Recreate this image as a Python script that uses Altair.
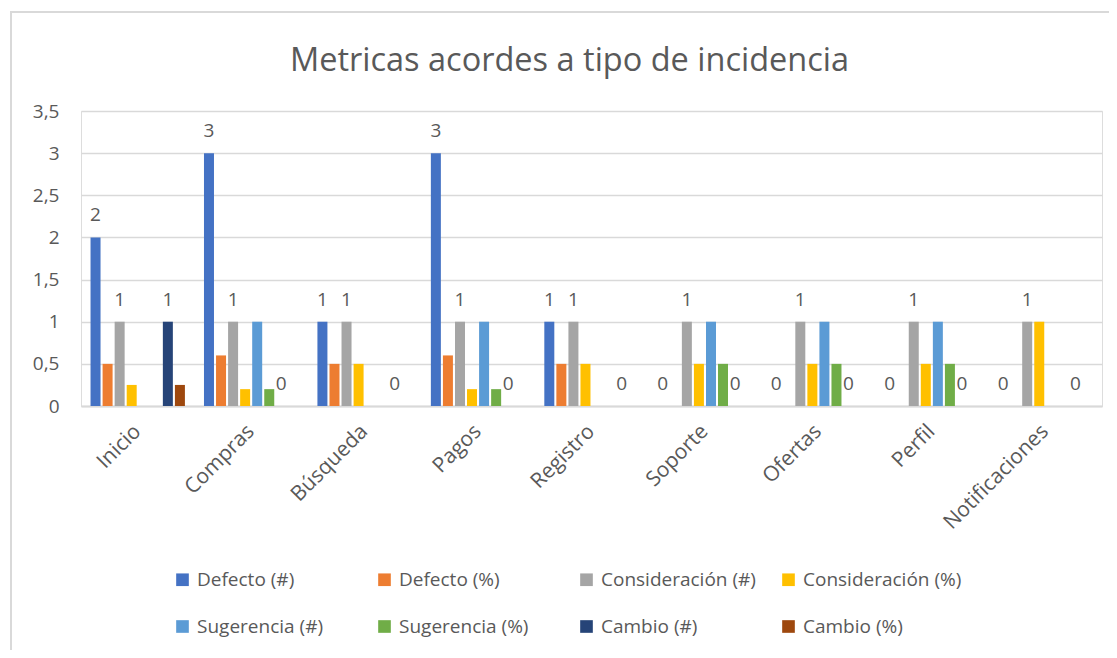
import altair as alt
import pandas as pd

categories = ["Inicio", "Compras", "Búsqueda", "Pagos", "Registro",
              "Soporte", "Ofertas", "Perfil", "Notificaciones"]
series = ["Defecto (#)", "Defecto (%)", "Consideración (#)", "Consideración (%)",
          "Sugerencia (#)", "Sugerencia (%)", "Cambio (#)", "Cambio (%)"]
colors = ["#4472C4", "#ED7D31", "#A5A5A5", "#FFC000",
          "#5B9BD5", "#70AD47", "#264478", "#9E480E"]

defecto_n = [2, 3, 1, 3, 1, 0, 0, 0, 0]
defecto_p = [0.5, 0.6, 0.5, 0.6, 0.5, 0, 0, 0, 0]
consid_n = [1, 1, 1, 1, 1, 1, 1, 1, 1]
consid_p = [0.25, 0.2, 0.5, 0.2, 0.5, 0.5, 0.5, 0.5, 1]
suger_n = [0, 1, 0, 1, 0, 1, 1, 1, 0]
suger_p = [0, 0.2, 0, 0.2, 0, 0.5, 0.5, 0.5, 0]
cambio_n = [1, 0, 0, 0, 0, 0, 0, 0, 0]
cambio_p = [0.25, 0, 0, 0, 0, 0, 0, 0, 0]

labelled = ["Defecto (#)", "Consideración (#)", "Cambio (#)"]
y_ticks = [0, 0.5, 1, 1.5, 2, 2.5, 3, 3.5]

values = [defecto_n, defecto_p, consid_n, consid_p, suger_n, suger_p, cambio_n, cambio_p]
rows = []
for s, vals in zip(series, values):
    for c, v in zip(categories, vals):
        rows.append({"categoria": c, "serie": s, "valor": v})
df = pd.DataFrame(rows)

FONT = "Open Sans"
GREY = "#595959"

x_enc = alt.X("categoria:N", sort=categories, title=None,
              scale=alt.Scale(paddingInner=0.15, paddingOuter=0.075),
              axis=alt.Axis(labelAngle=315, labelAlign="right", labelBaseline="middle",
                            labelPadding=22, labelFontSize=21, labelColor=GREY,
                            labelFont=FONT, ticks=False, domainColor="#D9D9D9",
                            domainWidth=2, grid=False))
xo_enc = alt.XOffset("serie:N", sort=series,
                     scale=alt.Scale(domain=series, paddingInner=0.17, paddingOuter=0.085))
y_enc = alt.Y("valor:Q", title=None,
              scale=alt.Scale(domain=[0, 3.5], nice=False),
              axis=alt.Axis(values=y_ticks, labelExpr="replace(format(datum.value, '.1~f'), '.', ',')",
                            labelFontSize=19, labelColor=GREY, labelFont=FONT, labelPadding=22,
                            ticks=False, domain=False, gridColor="#D9D9D9", gridWidth=1.5))

bars = alt.Chart(df).mark_bar().encode(
    x=x_enc,
    xOffset=xo_enc,
    y=y_enc,
    color=alt.Color("serie:N", sort=series,
                    scale=alt.Scale(domain=series, range=colors),
                    legend=alt.Legend(title=None, orient="none", legendX=92, legendY=459,
                                      direction="horizontal",
                                      columns=4, gridAlign="all", symbolType="square",
                                      symbolSize=160, symbolStrokeWidth=0, labelFontSize=19,
                                      labelColor=GREY, labelFont=FONT, labelOffset=5,
                                      columnPadding=19, rowPadding=27, labelLimit=300)),
)

labels = alt.Chart(df).transform_filter(
    alt.FieldOneOfPredicate(field="serie", oneOf=labelled)
).mark_text(fontSize=19, font=FONT, color=GREY, baseline="alphabetic", dy=-16).encode(
    x=alt.X("categoria:N", sort=categories),
    xOffset=alt.XOffset("serie:N", sort=series),
    y=alt.Y("valor:Q"),
    text=alt.Text("valor:Q", format="d"),
)

frame = alt.Chart(alt.Data(values=[{"a": 1}])).mark_rect(
    fill=None, stroke="#D9D9D9", strokeWidth=2
).encode(x=alt.value(-70), x2=alt.value(1100), y=alt.value(-99), y2=alt.value(700))

chart = alt.layer(frame, bars, labels).properties(
    width=1021, height=295,
    padding={"left": 73, "top": 103, "right": 7, "bottom": 244},
    autosize=alt.AutoSizeParams(type="none"),
    title=alt.TitleParams("Metricas acordes a tipo de incidencia", fontSize=32.5, font=FONT,
                          fontWeight="normal", color=GREY, anchor="middle", frame="group",
                          baseline="bottom", offset=-99, dx=-22),
).configure_view(stroke=None).configure(background="white")

chart.save("out.html", embed_options={"renderer": "svg", "actions": False})
